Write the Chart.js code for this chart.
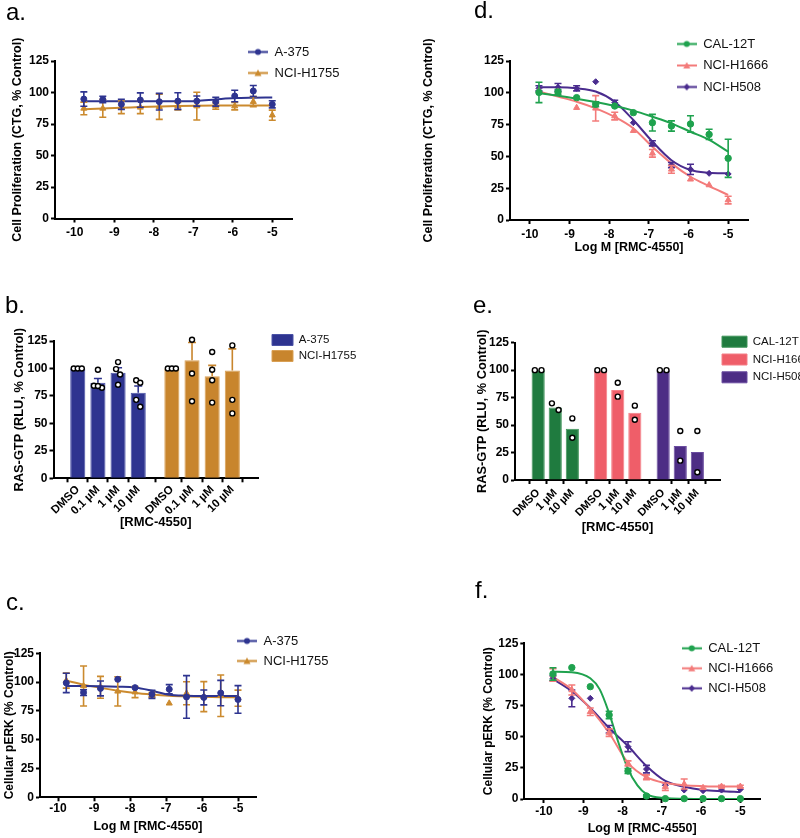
<!DOCTYPE html>
<html>
<head>
<meta charset="utf-8">
<script src="https://cdn.jsdelivr.net/npm/chart.js@4.4.1/dist/chart.umd.min.js"></script>
<style>
html,body{margin:0;padding:0;background:#fff;}
#fig{position:relative;width:800px;height:838px;overflow:hidden;background:#fff;}
canvas{position:absolute;}
.lab{position:absolute;font-family:'Liberation Sans',Arial,sans-serif;font-size:24px;line-height:24px;color:#000;}
</style>
</head>
<body>
<div id="fig">
  <canvas id="ca" width="400" height="260" style="left:0px;top:0px"></canvas>
  <canvas id="cb" width="400" height="260" style="left:0px;top:280px"></canvas>
  <canvas id="cc" width="400" height="278" style="left:0px;top:560px"></canvas>
  <canvas id="cd" width="400" height="260" style="left:400px;top:0px"></canvas>
  <canvas id="ce" width="400" height="260" style="left:400px;top:280px"></canvas>
  <canvas id="cf" width="400" height="278" style="left:400px;top:560px"></canvas>
  <div class="lab" style="left:6px;top:0px">a.</div>
  <div class="lab" style="left:5px;top:293px">b.</div>
  <div class="lab" style="left:6px;top:590px">c.</div>
  <div class="lab" style="left:474px;top:-2px">d.</div>
  <div class="lab" style="left:473px;top:293px">e.</div>
  <div class="lab" style="left:475px;top:578px">f.</div>
</div>
<script>
// ---------------- DATA ----------------
const logConc = [-9.77, -9.29, -8.82, -8.34, -7.86, -7.39, -6.91, -6.43, -5.95, -5.48, -5.00];
const xTicks = [-10, -9, -8, -7, -6, -5];
const yTicks = [0, 25, 50, 75, 100, 125];

// panel a : cell proliferation, BRAF lines
const aA375 = [94.8, 94.5, 90.6, 94.0, 92.7, 93.2, 93.2, 92.7, 97.2, 101.2, 90.6];
const aA375Sem = [5.7, 2.5, 4.0, 5.7, 6.6, 6.6, 4.0, 3.5, 4.6, 4.4, 2.8];
const aA375Fit = [93.0, 93.0, 93.0, 93.0, 93.0, 93.0, 93.3, 94.5, 95.6, 95.9, 96.0];
const aH1755 = [87.4, 87.4, 88.2, 88.2, 88.7, 89.2, 89.2, 89.2, 89.2, 92.7, 82.0];
const aH1755Sem = [5.0, 7.0, 5.0, 5.0, 10.0, 3.0, 11.0, 2.5, 3.0, 4.0, 4.0];
const aH1755Fit = [86.8, 87.3, 87.8, 88.4, 88.9, 89.3, 89.5, 89.6, 89.6, 89.6, 89.6];

// panel b : RAS-GTP
const bCategories = ['DMSO', '0.1 µM', '1 µM', '10 µM'];
const bA375 = [100, 87.1, 96.0, 77.8];
const bA375Sem = [0, 3.7, 4.6, 6.2];
const bA375Reps = [[100, 100, 100], [98.8, 84.3, 82.5, 84.0], [105.8, 99.4, 94.5, 85.2], [89.2, 87.0, 71.4, 65.2]];
const bH1755 = [100, 107.4, 92.9, 98.2];
const bH1755Sem = [0, 16.3, 9.9, 19.6];
const bH1755Reps = [[100, 100, 100], [126.2, 95.4, 70.2], [115.0, 98.8, 89.2, 68.9], [121.0, 71.4, 59.1]];

// panel c : cellular pERK, BRAF lines
const cA375 = [99.3, 90.9, 94.5, 102.4, 95.2, 89.4, 93.8, 87.1, 86.7, 90.5, 84.9];
const cA375Sem = [8.4, 2.5, 6.5, 0, 0, 3.5, 4.0, 18.5, 6.5, 11.0, 12.0];
const cA375Fit = [96.7, 96.6, 96.4, 96.0, 95.3, 92.5, 89.0, 88.2, 88.0, 88.0, 88.0];
const cH1755 = [101.3, 96.6, 95.5, 92.0, 91.3, 89.0, 81.6, 90.3, 87.4, 88.2, 86.0];
const cH1755Sem = [6.5, 17.4, 9.5, 12.7, 4.8, 2.0, 0, 10.0, 13.0, 18.0, 7.0];
const cH1755Fit = [101.3, 97.8, 95.0, 92.5, 90.5, 89.2, 88.2, 87.6, 87.2, 86.9, 86.7];

// panel d : cell proliferation, RAS-dependent lines
const dCAL = [100.3, 100.6, 96.2, 91.0, 89.6, 84.4, 76.5, 73.9, 75.5, 67.3, 48.5];
const dCALSem = [8, 2, 0, 2, 0, 0, 6.5, 4, 6.5, 4, 15];
const dCALFit = [99.6, 97.7, 95.4, 92.7, 89.6, 86.0, 81.2, 76.0, 69.4, 63.0, 53.7];
const dH1666 = [101.7, 101.0, 88.3, 87.8, 81.7, 70.2, 52.4, 39.8, 32.0, 27.5, 15.7];
const dH1666Sem = [0, 0, 0, 10, 3, 0, 3, 3, 0, 0, 3];
const dH1666Fit = [101.0, 97.0, 93.0, 87.8, 81.0, 72.0, 57.6, 44.5, 34.0, 26.7, 19.7];
const dH508 = [103.5, 104.3, 103.5, 108.7, 92.2, 76.5, 60.3, 43.2, 39.8, 36.7, 36.2];
const dH508Sem = [2, 3, 2, 0, 2, 0, 2, 2, 4, 0, 0];
const dH508Fit = [104.3, 104.3, 103.5, 101.0, 93.0, 78.6, 61.6, 47.0, 39.3, 37.2, 36.7];

// panel e : RAS-GTP, RAS-dependent lines
const eCategories = ['DMSO', '1 µM', '10 µM'];
const eCAL = [100, 66.1, 46.7];
const eCALReps = [[100, 100], [63.7, 69.8], [56.1, 38.5]];
const eH1666 = [100, 81.9, 61.3];
const eH1666Reps = [[100, 100], [88.6, 75.9], [67.7, 54.9]];
const eH508 = [100, 30.9, 25.5];
const eH508Reps = [[100, 100], [44.6, 17.6], [44.6, 7.0]];

// panel f : cellular pERK, RAS-dependent lines
const fCAL = [100.4, 105.5, 90.2, 67.5, 22.5, 2.4, 0.3, 0.3, 0.3, 0.3, 0.3];
const fCALSem = [5, 0, 0, 3, 2, 1, 0, 0, 0, 0, 0];
const fCALFitX = [-9.77, -9.29, -8.82, -8.58, -8.34, -8.10, -7.86, -7.62, -7.39, -6.91, -6.43, -5.95, -5.48, -5.00];
const fCALFit = [102.2, 101.7, 96.9, 88.0, 68.8, 45.0, 24.0, 11.0, 4.0, 0.8, 0.2, 0, 0, 0];
const fH1666 = [99.6, 87.5, 70.0, 53.3, 28.6, 17.4, 9.9, 12.0, 9.0, 10.0, 10.0];
const fH1666Sem = [5, 4, 3, 3, 2, 2, 3, 4, 1, 1, 1];
const fH1666Fit = [98.0, 88.0, 72.5, 53.0, 29.0, 17.5, 12.8, 11.0, 10.3, 10.0, 10.0];
const fH508 = [96.9, 80.8, 80.8, 56.0, 42.0, 24.0, 11.0, 7.2, 6.7, 7.2, 7.8];
const fH508Sem = [2, 6.7, 0, 3, 4, 3, 0, 0, 0, 0, 0];
const fH508Fit = [96.4, 86.5, 73.0, 57.0, 42.5, 26.5, 14.5, 9.8, 7.2, 6.2, 5.6];

// ---------------- STYLE ----------------
const FONT = "'Liberation Sans', Arial, Helvetica, sans-serif";
const NAVY = '#2E3490';
const ORANGE = '#CB8A2E';
const GREEN_L = '#1FA24E';
const RED_L = '#F37B7A';
const PURPLE_L = '#4A2C8E';
const GREEN_B = '#1F7B3F';
const RED_B = '#EF5E69';
const PURPLE_B = '#4D2D85';

Chart.defaults.font.family = FONT;
Chart.defaults.color = '#000';

// error bars drawn through the chart's own scales
function drawErr(chart, i, after) {
  const ds = chart.data.datasets[i];
  if (!ds.errorBars) return;
  if (!!ds.errorAfter !== after) return;
  const meta = chart.getDatasetMeta(i);
  const ys = chart.scales[meta.yAxisID];
  const ctx = chart.ctx;
  ctx.save();
  ctx.strokeStyle = ds.errorColor || ds.borderColor;
  ctx.lineWidth = 1.6;
  const cap = ds.errorCap || 3.5;
  meta.data.forEach((el, j) => {
    const e = ds.errorBars[j];
    const raw = ds.data[j];
    if (!e || raw == null) return;
    const v = typeof raw === 'object' ? raw.y : raw;
    const x = el.x;
    const top = ys.getPixelForValue(v + e);
    const bot = ds.errorUpOnly ? ys.getPixelForValue(v) : ys.getPixelForValue(v - e);
    ctx.beginPath();
    ctx.moveTo(x, top); ctx.lineTo(x, bot);
    ctx.moveTo(x - cap, top); ctx.lineTo(x + cap, top);
    if (!ds.errorUpOnly) { ctx.moveTo(x - cap, bot); ctx.lineTo(x + cap, bot); }
    ctx.stroke();
  });
  ctx.restore();
}
const errorBarPlugin = {
  id: 'errorBars',
  beforeDatasetDraw(chart, args) { drawErr(chart, args.index, false); },
  afterDatasetDraw(chart, args) { drawErr(chart, args.index, true); }
};
// place the legend box at a given spot
const legendPlace = {
  id: 'legendPlace',
  afterLayout(chart, args, opts) {
    if (!opts || opts.x === undefined || !chart.legend) return;
    const L = chart.legend;
    const lab = chart.options.plugins.legend.labels;
    const pad = lab.padding;
    const fs = lab.font.size;
    L.left = opts.x - pad;
    L.top = opts.y - fs / 2 - pad;
    L.right = L.left + Math.max(L.width, 150);
    L.bottom = L.top + 300;
    L.height = 300;
  }
};
Chart.register(errorBarPlugin, legendPlace);

function toPts(xs, ys) { return xs.map((x, i) => ({x: x, y: ys[i]})); }

function legendIcon(color, style) {
  const c = document.createElement('canvas');
  c.width = 20; c.height = 9;
  const g = c.getContext('2d');
  g.strokeStyle = color; g.lineWidth = 2;
  g.beginPath(); g.moveTo(0, 4.5); g.lineTo(20, 4.5); g.stroke();
  g.fillStyle = color; g.beginPath();
  if (style === 'circle') g.arc(10, 4.5, 3, 0, Math.PI * 2);
  else if (style === 'triangle') { g.moveTo(10, 1); g.lineTo(13.5, 7.5); g.lineTo(6.5, 7.5); g.closePath(); }
  else { g.moveTo(10, 1); g.lineTo(13.2, 4.5); g.lineTo(10, 8); g.lineTo(6.8, 4.5); g.closePath(); }
  g.fill();
  return c;
}

function axisStyle() {
  return {
    border: {display: true, color: '#000', width: 2},
    grid: {display: true, drawOnChartArea: false, drawTicks: true, tickLength: 4, tickWidth: 2, tickColor: '#000'}
  };
}
function yScale(p) {
  return Object.assign(axisStyle(), {
    type: 'linear', min: 0, max: 125,
    afterBuildTicks: s => { s.ticks = yTicks.map(v => ({value: v})); },
    ticks: {font: {size: 12, weight: 'bold'}, color: '#000', padding: 2},
    title: {display: true, text: p.yTitle, color: '#000', font: {size: p.yTitleSize, weight: 'bold'}, padding: {top: p.yTitlePad, bottom: 0}},
    afterFit: s => { s.width = p.yW; }
  });
}

function linePanel(id, p) {
  const datasets = [];
  p.series.forEach(s => {
    datasets.push({
      type: 'line', label: s.name, data: toPts(s.fitX || logConc, s.fit),
      borderColor: s.color, backgroundColor: s.color, borderWidth: 2,
      pointRadius: 0, cubicInterpolationMode: 'monotone', fill: false,
      order: 2, isFit: true, marker: s.marker
    });
  });
  p.series.forEach(s => {
    datasets.push({
      type: 'line', label: s.name + ' data', data: toPts(logConc, s.vals), showLine: false,
      pointStyle: s.marker, pointRadius: s.radius, pointBackgroundColor: s.color,
      pointBorderColor: s.color, pointBorderWidth: 1, borderColor: s.color, backgroundColor: s.color,
      errorBars: s.sem, order: 1, clip: false
    });
  });
  const xs = Object.assign(axisStyle(), {
    type: 'linear', min: -10.5, max: -4.5,
    afterBuildTicks: s => { s.ticks = xTicks.map(v => ({value: v})); },
    ticks: {font: {size: 12, weight: 'bold'}, color: '#000', padding: p.xTickPad, maxRotation: 0},
    title: p.xTitle ? {display: true, text: p.xTitle, color: '#000', font: {size: 12.5, weight: 'bold'}, padding: {top: 0, bottom: p.xTitlePad}} : {display: false},
    afterFit: s => { s.height = p.xH; }
  });
  new Chart(document.getElementById(id), {
    type: 'line',
    data: {datasets: datasets},
    options: {
      responsive: false, animation: false, devicePixelRatio: 1, events: [],
      layout: {padding: {left: 0, top: p.padT, right: p.padR, bottom: 0}},
      scales: {x: xs, y: yScale(p)},
      plugins: {
        tooltip: {enabled: false},
        title: {display: false},
        legendPlace: p.legend,
        legend: {
          display: true, position: 'chartArea', align: 'start',
          labels: {
            usePointStyle: true, pointStyleWidth: 20, color: '#111',
            font: {size: 13, weight: 'normal'}, padding: p.legendPad,
            generateLabels: chart => Chart.defaults.plugins.legend.labels.generateLabels(chart).map(it => {
              const ds = chart.data.datasets[it.datasetIndex];
              it.pointStyle = legendIcon(ds.borderColor, ds.marker);
              return it;
            }),
            filter: (item, data) => !!data.datasets[item.datasetIndex].isFit
          }
        }
      }
    }
  });
}

function spreadDots(vals, step, thr) {
  const idx = vals.map((v, i) => i).sort((a, b) => vals[b] - vals[a]);
  const off = vals.map(() => 0);
  let group = [idx[0]];
  const flush = () => { group.forEach((k, j) => { off[k] = (j - (group.length - 1) / 2) * step; }); };
  for (let n = 1; n < idx.length; n++) {
    if (vals[idx[n - 1]] - vals[idx[n]] < thr) group.push(idx[n]);
    else { flush(); group = [idx[n]]; }
  }
  flush();
  return off;
}

function barPanel(id, p) {
  const n = p.categories.length;
  const tickPos = [];
  const tickLabels = [];
  const datasets = [];
  const dots = [];
  p.groups.forEach((g, gi) => {
    const start = gi * (n + p.groupGap);
    p.categories.forEach((c, k) => { tickPos.push(start + k); tickLabels.push(c); });
    const ds = {
      type: 'bar', label: g.name, data: g.means.map((m, k) => ({x: start + k, y: m})),
      backgroundColor: g.color, borderColor: g.border, borderWidth: 1,
      grouped: false, barPercentage: p.barPct, categoryPercentage: 1, order: 2
    };
    if (g.sem) {
      ds.errorBars = g.sem; ds.errorUpOnly = true; ds.errorAfter = true; ds.errorCap = 4; ds.errorColor = g.color;
    }
    datasets.push(ds);
    g.reps.forEach((vals, k) => {
      const off = spreadDots(vals, p.dotStep, 6.3);
      vals.forEach((v, j) => dots.push({x: start + k + off[j], y: v}));
    });
  });
  datasets.push({
    type: 'scatter', label: 'replicates', data: dots,
    pointRadius: 2.5, pointBackgroundColor: '#fff', pointBorderColor: '#000', pointBorderWidth: 1.4,
    order: 0, clip: false
  });
  const xs = Object.assign(axisStyle(), {
    type: 'linear', min: p.xMin, max: p.xMax,
    afterBuildTicks: s => { s.ticks = tickPos.map(v => ({value: v})); },
    ticks: {font: {size: p.tickSize, weight: 'bold'}, color: '#000', minRotation: 45, maxRotation: 45, autoSkip: false, padding: p.tickPad,
      callback: (v, i) => tickLabels[i]},
    title: {display: true, text: '[RMC-4550]', color: '#000', font: {size: 13, weight: 'bold'}, padding: {top: 0, bottom: p.xTitlePad}},
    afterFit: s => { s.height = p.xH; }
  });
  new Chart(document.getElementById(id), {
    type: 'bar',
    data: {datasets: datasets},
    options: {
      responsive: false, animation: false, devicePixelRatio: 1, events: [],
      layout: {padding: {left: 0, top: p.padT, right: p.padR, bottom: 0}},
      scales: {x: xs, y: yScale(p)},
      plugins: {
        tooltip: {enabled: false},
        title: {display: false},
        legendPlace: p.legend,
        legend: {
          display: true, position: 'chartArea', align: 'start',
          labels: {
            boxWidth: p.boxW, boxHeight: 11, color: '#111', font: {size: 11.5, weight: 'normal'}, padding: p.legendPad,
            filter: (item, data) => data.datasets[item.datasetIndex].type === 'bar'
          }
        }
      }
    }
  });
}

// ---------------- PANELS ----------------
linePanel('ca', {
  padT: 61, padR: 108, yW: 55, xH: 41.5, yTitle: 'Cell Proliferation (CTG, % Control)', yTitleSize: 12.5, yTitlePad: 10,
  xTickPad: 2.5, xTitle: null, legend: {x: 248, y: 52}, legendPad: 8,
  series: [
    {name: 'A-375', color: NAVY, marker: 'circle', radius: 3, vals: aA375, sem: aA375Sem, fit: aA375Fit},
    {name: 'NCI-H1755', color: ORANGE, marker: 'triangle', radius: 3.5, vals: aH1755, sem: aH1755Sem, fit: aH1755Fit}
  ]
});
barPanel('cb', {
  padT: 61, padR: 142, yW: 53.5, xH: 61.7, yTitle: 'RAS-GTP (RLU, % Control)', yTitleSize: 12.8, yTitlePad: 12,
  xTitlePad: 9.5, legend: {x: 272, y: 60}, legendPad: 4.5, boxW: 21, barPct: 0.75, dotStep: 0.2,
  groupGap: 0.67, xMin: -0.57, xMax: 8.31, tickSize: 11.5, tickPad: 0.5,
  categories: bCategories,
  groups: [
    {name: 'A-375', color: NAVY, border: '#4A52A6', means: bA375, sem: bA375Sem, reps: bA375Reps},
    {name: 'NCI-H1755', color: '#C8852D', border: '#D9A055', means: bH1755, sem: bH1755Sem, reps: bH1755Reps}
  ]
});
linePanel('cc', {
  padT: 93.3, padR: 144, yW: 40, xH: 40.7, yTitle: 'Cellular pERK (% Control)', yTitleSize: 12, yTitlePad: 2,
  xTickPad: 0, xTitle: 'Log M [RMC-4550]', xTitlePad: 4, legend: {x: 237, y: 81}, legendPad: 7,
  series: [
    {name: 'A-375', color: NAVY, marker: 'circle', radius: 3, vals: cA375, sem: cA375Sem, fit: cA375Fit},
    {name: 'NCI-H1755', color: ORANGE, marker: 'triangle', radius: 3.5, vals: cH1755, sem: cH1755Sem, fit: cH1755Fit}
  ]
});
linePanel('cd', {
  padT: 61, padR: 52, yW: 110, xH: 40, yTitle: 'Cell Proliferation (CTG, % Control)', yTitleSize: 12.5, yTitlePad: 21,
  xTickPad: 3.8, xTitle: 'Log M [RMC-4550]', xTitlePad: 4.8, legend: {x: 276.7, y: 44}, legendPad: 8.5,
  series: [
    {name: 'CAL-12T', color: GREEN_L, marker: 'circle', radius: 3.2, vals: dCAL, sem: dCALSem, fit: dCALFit},
    {name: 'NCI-H1666', color: RED_L, marker: 'triangle', radius: 3.5, vals: dH1666, sem: dH1666Sem, fit: dH1666Fit},
    {name: 'NCI-H508', color: PURPLE_L, marker: 'rectRot', radius: 3, vals: dH508, sem: dH508Sem, fit: dH508Fit}
  ]
});
barPanel('ce', {
  padT: 62.7, padR: 80, yW: 115, xH: 60, yTitle: 'RAS-GTP (RLU, % Control)', yTitleSize: 12.8, yTitlePad: 75,
  xTitlePad: 4.8, legend: {x: 322, y: 61.7}, legendPad: 6.3, boxW: 25, barPct: 0.77, dotStep: 0.39,
  groupGap: 0.66, xMin: -0.69, xMax: 9.98, tickSize: 11, tickPad: 2.5,
  categories: eCategories,
  groups: [
    {name: 'CAL-12T', color: GREEN_B, border: '#3E9459', means: eCAL, sem: null, reps: eCALReps},
    {name: 'NCI-H1666', color: RED_B, border: '#F47F87', means: eH1666, sem: null, reps: eH1666Reps},
    {name: 'NCI-H508', color: PURPLE_B, border: '#6A4CA0', means: eH508, sem: null, reps: eH508Reps}
  ]
});
linePanel('cf', {
  padT: 83.3, padR: 40, yW: 124.3, xH: 39, yTitle: 'Cellular pERK (% Control)', yTitleSize: 12, yTitlePad: 81,
  xTickPad: 1.5, xTitle: 'Log M [RMC-4550]', xTitlePad: 1.8, legend: {x: 281.7, y: 88.3}, legendPad: 7,
  series: [
    {name: 'CAL-12T', color: GREEN_L, marker: 'circle', radius: 3.2, vals: fCAL, sem: fCALSem, fit: fCALFit, fitX: fCALFitX},
    {name: 'NCI-H1666', color: RED_L, marker: 'triangle', radius: 3.5, vals: fH1666, sem: fH1666Sem, fit: fH1666Fit},
    {name: 'NCI-H508', color: PURPLE_L, marker: 'rectRot', radius: 3, vals: fH508, sem: fH508Sem, fit: fH508Fit}
  ]
});
</script>
</body>
</html>
